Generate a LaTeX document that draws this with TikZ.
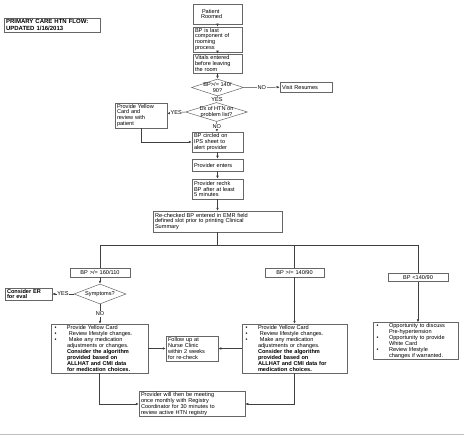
\documentclass[tikz,border=0pt]{standalone}
\usepackage{fontspec}
\setmainfont{Liberation Sans}
\usetikzlibrary{positioning, arrows.meta, shapes.geometric}
\newcommand{\flowfont}{\fontsize{5.6}{5.9}\selectfont\lineskiplimit=-5pt\relax}
\newcommand{\bul}{\makebox[14pt][l]{\hspace*{1.5pt}\textbullet}}
\newcommand{\ind}{\hspace*{14pt}}
\tikzset{
  stepbox/.style={
    draw=black!60, line width=0.5pt, fill=white,
    inner xsep=2pt, inner ysep=1pt,
    align=left, font=\flowfont
  },
  choice/.style={
    diamond, draw=black!60, line width=0.5pt, fill=white,
    aspect=4, inner sep=-4pt,
    align=center, font=\flowfont
  },
  flow/.style={-{Latex[length=3pt,width=2.6pt]}, line width=0.5pt, draw=black!75},
  link/.style={line width=0.5pt, draw=black!75},
  answer/.style={fill=white, inner sep=0.6pt, font=\flowfont},
}

\begin{document}
\begin{tikzpicture}[x=1pt, y=-1pt]
  \useasboundingbox (0,0) rectangle (464,436);

  \node[stepbox, font=\fontsize{6}{6.2}\selectfont\bfseries, inner xsep=2pt,
        text width=92pt, minimum height=14pt] (title) at (52,25)
    {PRIMARY CARE HTN FLOW:\\UPDATED 1/16/2013};

  % main column
  \node[stepbox, text width=45pt, minimum height=20pt] (roomed) at (217.5,14)
    {\hspace*{7pt}Patient\\\hspace*{6pt}Roomed};
  \node[stepbox, text width=45pt, minimum height=25pt] (last) at (217.5,39.5)
    {BP is last\\component of\\rooming\\process};
  \node[stepbox, text width=45pt, minimum height=19pt] (vitals) at (217.5,63.5)
    {Vitals entered\\before leaving\\the room};
  \node[choice, minimum width=52pt, minimum height=17pt] (bpcheck) at (217.5,87.5)
    {BP>/= 140/\\90?};
  \node[stepbox, text width=48pt, minimum height=10pt] (visit) at (306,87)
    {Visit Resumes};
  \node[choice, minimum width=62pt, minimum height=19pt] (dxhtn) at (216.5,112)
    {Dx of HTN on\\problem list?};
  \node[stepbox, text width=48pt, minimum height=25pt] (yellow) at (141,115.5)
    {Provide Yellow\\Card and\\review with\\patient};
  \node[stepbox, text width=47pt, minimum height=20pt] (circled) at (217.5,142)
    {BP circled on\\IPS sheet to\\alert provider};
  \node[stepbox, text width=47pt, minimum height=12pt] (enters) at (217.5,165)
    {Provider enters};
  \node[stepbox, text width=47pt, minimum height=20pt] (recheck) at (217.5,189)
    {Provider rechk\\BP after at least\\5 minutes};
  \node[stepbox, text width=125pt, minimum height=21pt] (emr) at (217.5,221.5)
    {Re-checked BP entered in EMR field\\defined slot prior to printing Clinical\\Summary};
  \coordinate (split) at (217.5,245);

  % three branches
  \node[stepbox, align=center, text width=56pt, minimum height=9pt] (high) at (100,272.5)
    {BP >/= 160/110};
  \node[stepbox, align=center, text width=55pt, minimum height=9pt] (mid) at (294.5,272.5)
    {BP >/= 140/90};
  \node[stepbox, align=center, text width=56pt, minimum height=8.5pt] (low) at (418,277)
    {BP <140/90};
  \node[choice, minimum width=52pt, minimum height=20pt] (symptoms) at (100,294)
    {Symptoms?};
  \node[stepbox, font=\flowfont\bfseries, text width=43pt, minimum height=12pt] (er) at (28.5,294)
    {Consider ER\\for eval};

  \node[stepbox, text width=93pt, minimum height=49pt] (highcare) at (99.5,348.5)
    {\bul Provide Yellow Card\\
     \bul\ Review lifestyle changes.\\
     \bul\ Make any medication\\
     \ind adjustments or changes.\\
     \ind\textbf{Consider the algorithm}\\
     \ind\textbf{provided based on}\\
     \ind\textbf{ALLHAT and CMI data}\\
     \ind\textbf{for medication choices.}};
  \node[stepbox, text width=101pt, minimum height=49pt] (midcare) at (294.5,348.5)
    {\bul Provide Yellow Card\\
     \bul\ Review lifestyle changes.\\
     \bul\ Make any medication\\
     \ind adjustments or changes.\\
     \ind\textbf{Consider the algorithm}\\
     \ind\textbf{provided based on}\\
     \ind\textbf{ALLHAT and CMI data for}\\
     \ind\textbf{medication choices.}};
  \node[stepbox, text width=81pt, minimum height=34pt] (lowcare) at (415.5,341)
    {\bul Opportunity to discuss\\
     \ind Pre-hypertension\\
     \bul Opportunity to provide\\
     \ind White Card\\
     \bul Review lifestyle\\
     \ind changes if warranted.};
  \node[stepbox, text width=48pt, minimum height=25pt] (nurse) at (192,348.5)
    {Follow up at\\Nurse Clinic\\within 2 weeks\\for re-check};
  \node[stepbox, text width=102pt, minimum height=24pt] (registry) at (192,404)
    {Provider will then be meeting\\once monthly with Registry\\Coordinator for 30 minutes to\\review active HTN registry};

  % connectors
  \draw[flow] (roomed) -- (last);
  \draw[flow] (last) -- (vitals);
  \draw[flow] (vitals) -- (bpcheck);
  \draw[flow] (bpcheck.east) -- node[answer] {NO} (visit);
  \draw[link] (bpcheck.south) -- node[answer] {YES} (dxhtn.north);
  \draw[flow] (dxhtn.west) -- node[answer] {YES} (yellow);
  \draw[flow] (dxhtn.south) -- node[answer] {NO} (circled);
  \draw[flow] (yellow.south) |- (circled.west);
  \draw[flow] (circled) -- (enters);
  \draw[flow] (enters) -- (recheck);
  \draw[flow] (recheck) -- (emr);
  \draw[link] (emr) -- (split);
  \draw[link] (high.north |- split) -- (low.north |- split);
  \draw[link] (high.north |- split) -- (high);
  \draw[link] (mid.north |- split) -- (mid);
  \draw[link] (low.north |- split) -- (low);
  \draw[flow] (high) -- (symptoms);
  \draw[flow] (symptoms.west) -- node[answer] {YES} (er);
  \draw[flow] (symptoms.south) -- node[answer] {NO} (symptoms.south |- highcare.north);
  \draw[flow] (mid) -- (midcare);
  \draw[flow] (low.south) -- (low.south |- lowcare.north);
  \draw[flow] (highcare) -- (nurse);
  \draw[flow] (midcare) -- (nurse);
  \draw[flow] (highcare.south) |- (registry.west);
  \draw[flow] (midcare.south) |- (registry.east);

  \draw[black!25, line width=1.2pt] (0,434.5) -- (464,434.5);
\end{tikzpicture}
\end{document}
